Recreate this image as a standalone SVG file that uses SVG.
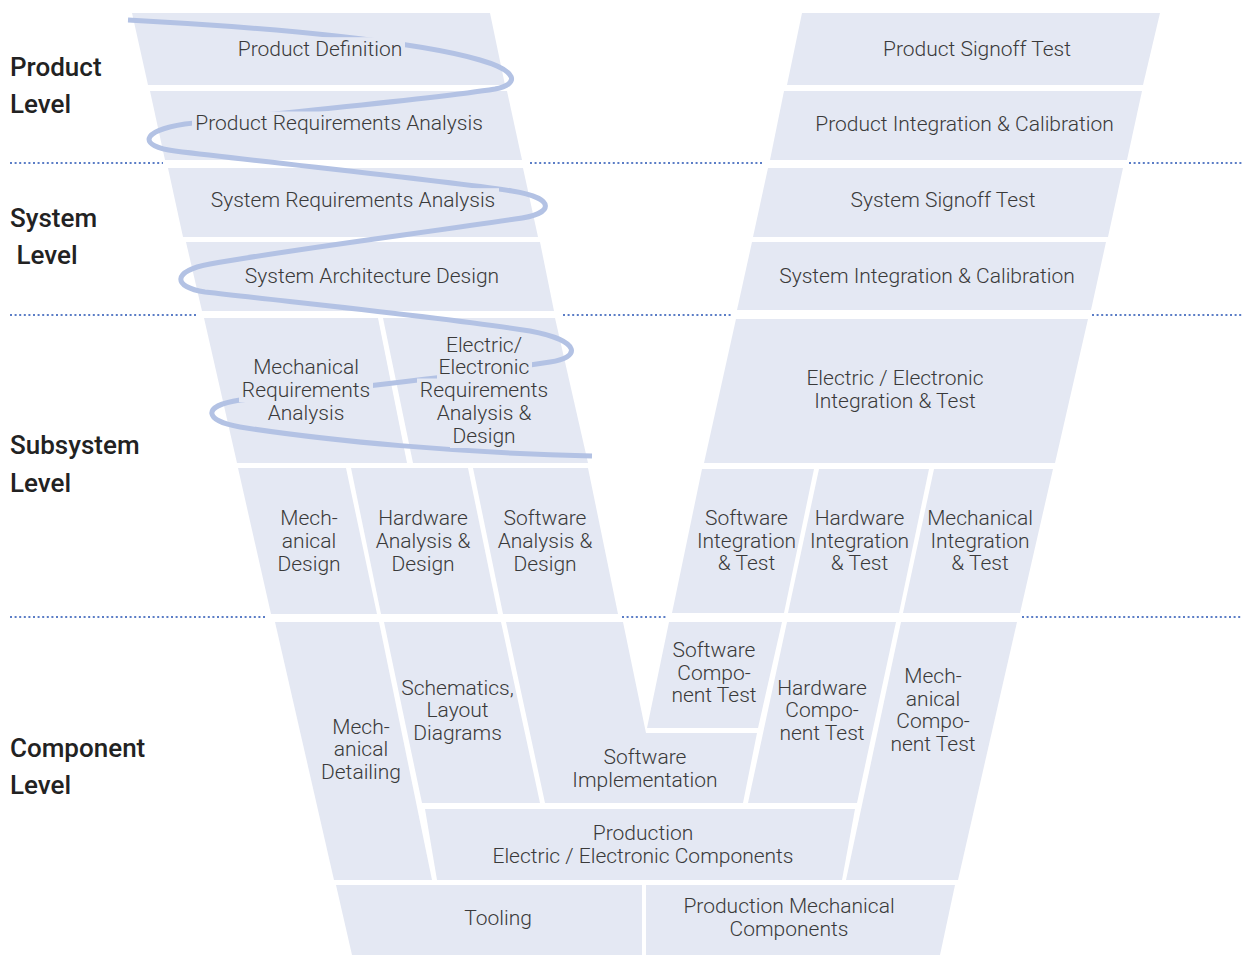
<svg xmlns="http://www.w3.org/2000/svg" width="1242" height="956" viewBox="0 0 1242 956">
<style>
.b{fill:#e4e8f3}
.t{font-family:Roboto,"Liberation Sans",sans-serif;font-weight:300;font-size:21px;fill:#3a3a3a;text-anchor:middle}
.lv{font-family:Roboto,"Liberation Sans",sans-serif;font-weight:500;font-size:26px;fill:#222}
.sep{stroke:#5b7dc6;stroke-width:2;stroke-dasharray:2 2.6;fill:none}
.curve{fill:none;stroke:#b3c2e4;stroke-width:5}
</style>
<defs>
<mask id="curveMask" maskUnits="userSpaceOnUse" x="0" y="0" width="1242" height="956">
<rect x="0" y="0" width="1242" height="956" fill="#fff"/>
<g fill="#000">
<rect x="235" y="37.2" width="170" height="23.5"/>
<rect x="192" y="111.5" width="294" height="23.5"/>
<rect x="207" y="188.2" width="292" height="23.5"/>
<rect x="242" y="264.8" width="260" height="23.5"/>
<rect x="251" y="355.5" width="109" height="23.5"/>
<rect x="239" y="378.5" width="134" height="23.5"/>
<rect x="265" y="401.5" width="81" height="23.5"/>
<rect x="443" y="333.2" width="81" height="23.5"/>
<rect x="437" y="355.5" width="95" height="23.5"/>
<rect x="417" y="378.5" width="134" height="23.5"/>
<rect x="434" y="401.5" width="100" height="23.5"/>
<rect x="450" y="424.5" width="68" height="23.5"/>
</g>
</mask>
</defs>
<rect width="1242" height="956" fill="#fff"/>

<g id="levels">
<text class="lv" x="10" y="76">Product</text>
<text class="lv" x="10" y="113.3">Level</text>
<text class="lv" x="10" y="227">System</text>
<text class="lv" x="16.5" y="264">Level</text>
<text class="lv" x="10" y="454">Subsystem</text>
<text class="lv" x="10" y="492">Level</text>
<text class="lv" x="10" y="757">Component</text>
<text class="lv" x="10" y="794">Level</text>
</g>

<g id="separators">
<line class="sep" x1="10" y1="163" x2="163" y2="163"/>
<line class="sep" x1="530" y1="163" x2="762" y2="163"/>
<line class="sep" x1="1129" y1="163" x2="1242" y2="163"/>
<line class="sep" x1="10" y1="315" x2="197" y2="315"/>
<line class="sep" x1="563" y1="315" x2="731" y2="315"/>
<line class="sep" x1="1092" y1="315" x2="1242" y2="315"/>
<line class="sep" x1="10" y1="617" x2="265" y2="617"/>
<line class="sep" x1="622" y1="617" x2="667" y2="617"/>
<line class="sep" x1="1022" y1="617" x2="1242" y2="617"/>
</g>

<g id="n-product-definition"><polygon class="b" points="132,13 490,13 505,85 148,85"/></g>
<g id="n-product-requirements"><polygon class="b" points="150,91 507,91 522,160 165,160"/></g>
<g id="n-system-requirements"><polygon class="b" points="168,168 523,168 538,237 183,237"/></g>
<g id="n-system-architecture"><polygon class="b" points="186,242 540,242 554,311 202,311"/></g>
<g id="n-mech-requirements"><polygon class="b" points="204,318 378,318 407,463 237,463"/></g>
<g id="n-ee-requirements"><polygon class="b" points="383,318 555,318 588,463 413,463"/></g>
<g id="n-mech-design"><polygon class="b" points="238,468 346,468 377,614 271,614"/></g>
<g id="n-hw-design"><polygon class="b" points="351,468 468,468 498,614 381,614"/></g>
<g id="n-sw-design"><polygon class="b" points="473,468 588,468 618,614 503,614"/></g>
<g id="n-mech-detailing"><polygon class="b" points="275,622 379,622 432,880 334,880"/></g>
<g id="n-schematics"><polygon class="b" points="384,622 501,622 540,803 422,803"/></g>
<g id="n-sw-implementation"><polygon class="b" points="506,622 623,622 646,733 757,733 743,803 545,803"/></g>
<g id="n-sw-component-test"><polygon class="b" points="669,622 782,622 758,728 647,728"/></g>
<g id="n-hw-component-test"><polygon class="b" points="787,622 896,622 857,803 748,803"/></g>
<g id="n-mech-component-test"><polygon class="b" points="901,622 1017,622 958,880 846,880"/></g>
<g id="n-production-ee"><polygon class="b" points="425,809 855,809 842,880 437,880"/></g>
<g id="n-tooling"><polygon class="b" points="336,885 642,885 642,955 352,955"/></g>
<g id="n-production-mech"><polygon class="b" points="646,885 955,885 940,955 646,955"/></g>
<g id="n-product-signoff"><polygon class="b" points="802,13 1160,13 1143,85 787,85"/></g>
<g id="n-product-integration"><polygon class="b" points="784,91 1142,91 1127,160 770,160"/></g>
<g id="n-system-signoff"><polygon class="b" points="768,168 1123,168 1108,237 753,237"/></g>
<g id="n-system-integration"><polygon class="b" points="752,242 1106,242 1091,310 737,310"/></g>
<g id="n-ee-integration"><polygon class="b" points="736,319 1088,319 1055,463 704,463"/></g>
<g id="n-sw-integration"><polygon class="b" points="702,469 814,469 784,613 672,613"/></g>
<g id="n-hw-integration"><polygon class="b" points="819,469 929,469 899,613 788,613"/></g>
<g id="n-mech-integration"><polygon class="b" points="934,469 1053,469 1020,613 903,613"/></g>

<g id="connectors">
<path class="curve" mask="url(#curveMask)" d="M128,20 C280,28 420,42 480,60 C518,71 520,84 495,89 C420,101 260,114 185,124 C140,131 138,146 175,151 C280,164 440,180 512,191 C556,198 556,214 515,219 C430,232 300,248 210,264 C172,271 172,287 205,292 C300,303 450,318 530,331 C583,341 580,358 550,362 C460,376 320,392 240,400 C200,406 205,421 240,427 C330,441 460,453 592,456"/>
</g>

<g id="labels">
<text class="t" x="320" y="55.7">Product Definition</text>
<text class="t" x="339" y="130">Product Requirements Analysis</text>
<text class="t" x="353" y="206.7">System Requirements Analysis</text>
<text class="t" x="372" y="283.3">System Architecture Design</text>
<text class="t"><tspan x="306" y="374">Mechanical</tspan><tspan x="306" y="397">Requirements</tspan><tspan x="306" y="420">Analysis</tspan></text>
<text class="t"><tspan x="484" y="351.7">Electric/</tspan><tspan x="484" y="374">Electronic</tspan><tspan x="484" y="397">Requirements</tspan><tspan x="484" y="420">Analysis &amp;</tspan><tspan x="484" y="443">Design</tspan></text>
<text class="t"><tspan x="309" y="525">Mech-</tspan><tspan x="309" y="548">anical</tspan><tspan x="309" y="570.5">Design</tspan></text>
<text class="t"><tspan x="423" y="525">Hardware</tspan><tspan x="423" y="548">Analysis &amp;</tspan><tspan x="423" y="570.5">Design</tspan></text>
<text class="t"><tspan x="545" y="525">Software</tspan><tspan x="545" y="548">Analysis &amp;</tspan><tspan x="545" y="570.5">Design</tspan></text>
<text class="t"><tspan x="361" y="733.5">Mech-</tspan><tspan x="361" y="756">anical</tspan><tspan x="361" y="778.5">Detailing</tspan></text>
<text class="t"><tspan x="457.5" y="695">Schematics,</tspan><tspan x="457.5" y="717">Layout</tspan><tspan x="457.5" y="739.5">Diagrams</tspan></text>
<text class="t"><tspan x="645" y="764">Software</tspan><tspan x="645" y="786.7">Implementation</tspan></text>
<text class="t"><tspan x="714" y="657">Software</tspan><tspan x="714" y="679.5">Compo-</tspan><tspan x="714" y="702">nent Test</tspan></text>
<text class="t"><tspan x="822" y="695">Hardware</tspan><tspan x="822" y="717">Compo-</tspan><tspan x="822" y="739.5">nent Test</tspan></text>
<text class="t"><tspan x="933" y="683">Mech-</tspan><tspan x="933" y="705.5">anical</tspan><tspan x="933" y="728">Compo-</tspan><tspan x="933" y="750.5">nent Test</tspan></text>
<text class="t"><tspan x="643" y="840">Production</tspan><tspan x="643" y="862.7">Electric / Electronic Components</tspan></text>
<text class="t" x="498" y="924.5">Tooling</text>
<text class="t"><tspan x="789" y="913.3">Production Mechanical</tspan><tspan x="789" y="935.5">Components</tspan></text>
<text class="t" x="977" y="56">Product Signoff Test</text>
<text class="t" x="964.5" y="130.7">Product Integration &amp; Calibration</text>
<text class="t" x="943" y="206.7">System Signoff Test</text>
<text class="t" x="927" y="282.7">System Integration &amp; Calibration</text>
<text class="t"><tspan x="895" y="385">Electric / Electronic</tspan><tspan x="895" y="407.5">Integration &amp; Test</tspan></text>
<text class="t"><tspan x="746.5" y="525">Software</tspan><tspan x="746.5" y="547.5">Integration</tspan><tspan x="746.5" y="570">&amp; Test</tspan></text>
<text class="t"><tspan x="859.5" y="525">Hardware</tspan><tspan x="859.5" y="547.5">Integration</tspan><tspan x="859.5" y="570">&amp; Test</tspan></text>
<text class="t"><tspan x="980" y="525">Mechanical</tspan><tspan x="980" y="547.5">Integration</tspan><tspan x="980" y="570">&amp; Test</tspan></text>
</g>
</svg>
